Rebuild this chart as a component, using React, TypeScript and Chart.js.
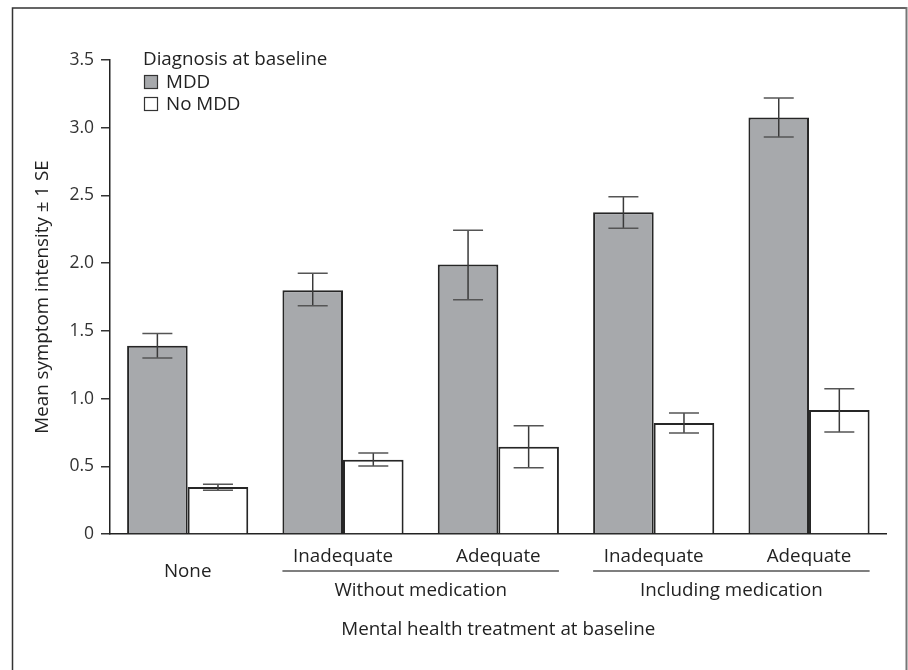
import React, { useEffect, useRef } from "react";
import { Chart, registerables } from "chart.js";
Chart.register(...registerables);

const categories = ["None", "Inadequate", "Adequate", "Inadequate", "Adequate"];
const groupLabels = ["Without medication", "Including medication"];
const groupStart = [1, 3];
const groupEnd = [2, 4];
const seriesNames = ["MDD", "No MDD"];
const mddMeans = [1.39, 1.8, 1.99, 2.375, 3.075];
const mddLow = [1.3, 1.686, 1.73, 2.257, 2.931];
const mddHigh = [1.48, 1.925, 2.242, 2.49, 3.219];
const noMddMeans = [0.347, 0.549, 0.645, 0.82, 0.916];
const noMddLow = [0.323, 0.502, 0.49, 0.746, 0.753];
const noMddHigh = [0.367, 0.598, 0.8, 0.893, 1.073];
const legendTitle = "Diagnosis at baseline";
const yTitle = "Mean symptom intensity \u00b1 1 SE";
const xTitle = "Mental health treatment at baseline";

const FONT = "'Open Sans', sans-serif";
const FS = 18.8;
const TICK_FS = 17.5;

const lows = [mddLow, noMddLow];
const highs = [mddHigh, noMddHigh];

const figurePlugin = {
  id: "figurePlugin",
  afterDatasetsDraw(chart: any) {
    const ctx = chart.ctx;
    const y = chart.scales.y;
    ctx.save();
    chart.data.datasets.forEach((ds: any, di: number) => {
      const meta = chart.getDatasetMeta(di);
      meta.data.forEach((bar: any, i: number) => {
        const x = bar.x;
        const yl = y.getPixelForValue(lows[di][i]);
        const yh = y.getPixelForValue(highs[di][i]);
        ctx.strokeStyle = "#3a3a3a";
        ctx.lineWidth = 1.5;
        ctx.beginPath();
        ctx.moveTo(x, yl);
        ctx.lineTo(x, yh);
        ctx.stroke();
        ctx.strokeStyle = "#555";
        ctx.beginPath();
        ctx.moveTo(x - 15, yl);
        ctx.lineTo(x + 15, yl);
        ctx.moveTo(x - 15, yh);
        ctx.lineTo(x + 15, yh);
        ctx.stroke();
      });
    });
    ctx.restore();
  },
  afterDraw(chart: any) {
    const ctx = chart.ctx;
    const area = chart.chartArea;
    const m0 = chart.getDatasetMeta(0);
    const m1 = chart.getDatasetMeta(1);
    ctx.save();
    ctx.fillStyle = "#222";
    ctx.font = `${FS}px ${FONT}`;
    ctx.textAlign = "center";
    ctx.textBaseline = "middle";
    // category labels
    categories.forEach((c, i) => {
      const x = (m0.data[i].x + m1.data[i].x) / 2;
      const yy = i === 0 ? area.bottom + 38 : area.bottom + 22.5;
      ctx.fillText(c, x, yy);
    });
    // group lines and labels
    groupLabels.forEach((g, gi) => {
      const b0 = m0.data[groupStart[gi]];
      const b1 = m1.data[groupEnd[gi]];
      const x0 = b0.x - b0.width / 2;
      const x1 = b1.x + b1.width / 2;
      ctx.strokeStyle = "#555";
      ctx.lineWidth = 1.5;
      ctx.beginPath();
      ctx.moveTo(x0, area.bottom + 37);
      ctx.lineTo(x1, area.bottom + 37);
      ctx.stroke();
      ctx.fillText(g, (x0 + x1) / 2, area.bottom + 56.5);
    });
    // x title
    ctx.fillText(xTitle, (area.left + area.right) / 2, area.bottom + 95.5);
    // legend
    ctx.textAlign = "left";
    ctx.fillText(legendTitle, 143, 59.5);
    chart.data.datasets.forEach((ds: any, di: number) => {
      const yy = 75 + di * 22;
      ctx.fillStyle = ds.backgroundColor;
      ctx.fillRect(144.5, yy + 0.5, 13, 13);
      ctx.strokeStyle = "#333";
      ctx.lineWidth = 1.2;
      ctx.strokeRect(144.5, yy + 0.5, 13, 13);
      ctx.fillStyle = "#222";
      ctx.fillText(ds.label, 166, yy + 7.5);
    });
    // outer frame
    ctx.strokeStyle = "#333";
    ctx.lineWidth = 1.5;
    ctx.beginPath();
    ctx.moveTo(12.5, 680);
    ctx.lineTo(12.5, 8);
    ctx.lineTo(906, 8);
    ctx.stroke();
    ctx.strokeStyle = "#777";
    ctx.lineWidth = 2;
    ctx.beginPath();
    ctx.moveTo(906.5, 7);
    ctx.lineTo(906.5, 680);
    ctx.stroke();
    ctx.restore();
  },
};

export default function App() {
  const ref = useRef<HTMLCanvasElement>(null);
  useEffect(() => {
    if (!ref.current) return;
    const chart = new Chart(ref.current, {
      type: "bar",
      data: {
        labels: categories,
        datasets: [
          {
            label: seriesNames[0],
            data: mddMeans,
            backgroundColor: "#a7a9ac",
            borderColor: "#262626",
            borderWidth: 2,
            barPercentage: 1,
            categoryPercentage: 0.78,
          },
          {
            label: seriesNames[1],
            data: noMddMeans,
            backgroundColor: "#ffffff",
            borderColor: "#262626",
            borderWidth: 2,
            barPercentage: 1,
            categoryPercentage: 0.78,
          },
        ],
      },
      options: {
        responsive: false,
        animation: false,
        layout: { padding: { top: 60, bottom: 136, left: 0, right: 21.3 } },
        plugins: { legend: { display: false }, tooltip: { enabled: false } },
        scales: {
          x: {
            ticks: { display: false },
            grid: { display: false },
            border: { display: true, color: "#222", width: 1.5 },
            afterFit: (s: any) => {
              s.height = 0;
            },
          },
          y: {
            min: 0,
            max: 3.5,
            ticks: {
              stepSize: 0.5,
              color: "#333",
              padding: 7,
              font: { family: FONT, size: TICK_FS },
              callback: (v: any) => (Number(v) === 0 ? "0" : Number(v).toFixed(1)),
            },
            grid: {
              display: true,
              drawOnChartArea: false,
              drawTicks: true,
              tickLength: 9,
              color: "#333",
              lineWidth: 1.5,
            },
            border: { display: true, color: "#222", width: 1.5 },
            title: {
              display: true,
              text: yTitle,
              color: "#222",
              font: { family: FONT, size: FS },
              padding: { top: 31.5, bottom: 0 },
            },
            afterFit: (s: any) => {
              s.width = 110;
            },
          },
        },
      },
      plugins: [figurePlugin],
    });
    return () => chart.destroy();
  }, []);
  return (
    <div style={{ position: "absolute", left: 0, top: 0, width: 908, height: 670, background: "#fff" }}>
      <canvas ref={ref} width={908} height={670} style={{ width: 908, height: 670, display: "block" }} />
    </div>
  );
}
